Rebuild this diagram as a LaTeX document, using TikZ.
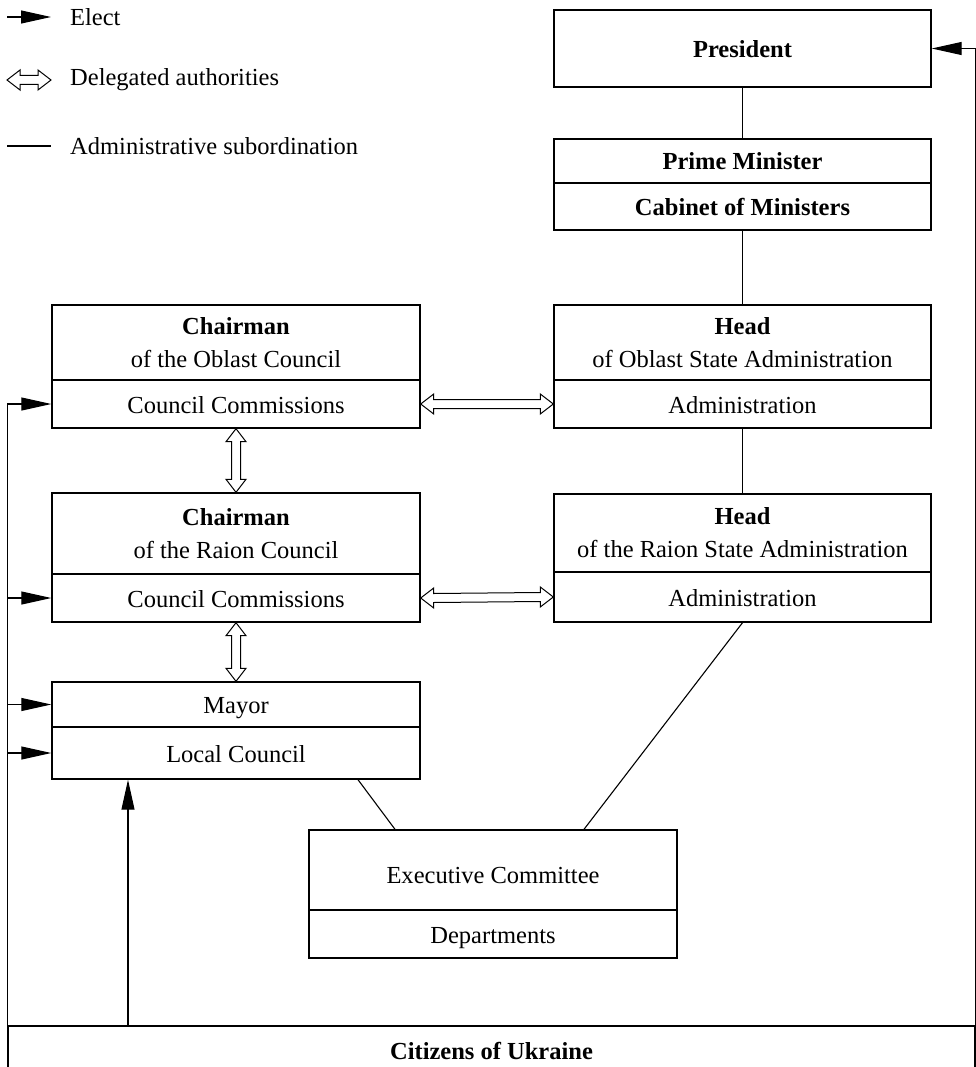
\documentclass[tikz,border=0pt]{standalone}
\usepackage{fontspec}
\setmainfont{Liberation Serif}
\usetikzlibrary{arrows.meta,calc}
\newcommand\mydblH[2]{\draw[dbl] (#1) -- ($(#1)+(13,-10)$) -- ($(#1)+(13,-4.5)$) -- ($(#2)+(-13,-4.5)$) -- ($(#2)+(-13,-10)$) -- (#2) -- ($(#2)+(-13,10)$) -- ($(#2)+(-13,4.5)$) -- ($(#1)+(13,4.5)$) -- ($(#1)+(13,10)$) -- cycle;}
\newcommand\mydblV[2]{\draw[dbl] (#1) -- ($(#1)+(-10,13)$) -- ($(#1)+(-4.5,13)$) -- ($(#2)+(-4.5,-13)$) -- ($(#2)+(-10,-13)$) -- (#2) -- ($(#2)+(10,-13)$) -- ($(#2)+(4.5,-13)$) -- ($(#1)+(4.5,13)$) -- ($(#1)+(10,13)$) -- cycle;}
\begin{document}
\begin{tikzpicture}[x=1pt,y=-1pt,
  box/.style={draw, line width=1.4pt, inner sep=0pt, align=center, font=\fontsize{24.5}{33}\selectfont},
  bfont/.style={font=\fontsize{24.5}{33}\selectfont\bfseries},
  sl/.style={text height=18pt, text depth=0pt},
  lbox/.style={box, minimum width=368pt},
  rbox/.style={box, minimum width=377pt},
  conn/.style={line width=1.1pt},
  elect/.style={conn, -{Triangle[length=30pt,width=13pt]}},
  dbl/.style={line width=1pt, fill=white, line join=miter},
  lab/.style={anchor=west, inner sep=0pt, font=\fontsize{24.5}{28}\selectfont}]
\useasboundingbox (0,0) rectangle (976,1067);
\clip (0,0) rectangle (976,1067);
% legend
\coordinate (e1) at (7,17); \coordinate (e2) at (51,17);
\draw[elect] (e1) -- (e2);
\node[lab] (le) at (70,17) {Elect};
\coordinate (d1) at (7,80); \coordinate (d2) at (51,80);
\mydblH{d1}{d2}
\node[lab] (ld) at (70,80) {Delegated authorities};
\coordinate (a1) at (7,146); \coordinate (a2) at (51,146);
\draw[conn] (a1) -- (a2);
\node[lab] (la) at (70,146) {Administrative subordination};
% right column
\node[rbox, sl, minimum height=77pt, bfont] (pres) at (742.5,48.5) {President};
\node[rbox, sl, minimum height=44pt, bfont] (pm) at (742.5,161) {Prime Minister};
\node[rbox, sl, minimum height=47pt, bfont] (cab) at (742.5,206.5) {Cabinet of Ministers};
\node[rbox, minimum height=75pt] (ohead) at (742.5,342.5) {\textbf{Head}\\of Oblast State Administration};
\node[rbox, sl, minimum height=48pt] (oadm) at (742.5,404) {Administration};
\node[rbox, minimum height=78pt] (rhead) at (742.5,533) {\textbf{Head}\\of the Raion State Administration};
\node[rbox, sl, minimum height=50pt] (radm) at (742.5,597) {Administration};
% left column
\node[lbox, minimum height=75pt] (och) at (236,342.5) {\textbf{Chairman}\\of the Oblast Council};
\node[lbox, sl, minimum height=48pt] (occ) at (236,404) {Council Commissions};
\node[lbox, minimum height=81pt] (rch) at (236,533.5) {\textbf{Chairman}\\of the Raion Council};
\node[lbox, sl, minimum height=48pt] (rcc) at (236,598) {Council Commissions};
\node[lbox, sl, minimum height=45pt] (mayor) at (236,704.5) {Mayor};
\node[lbox, sl, minimum height=52pt] (lc) at (236,753) {Local Council};
\node[lbox, minimum height=80pt, text height=26pt, text depth=0pt] (exc) at (493,870) {Executive Committee};
\node[lbox, sl, minimum height=48pt] (dep) at (493,934) {Departments};
\node[box, sl, minimum width=967pt, minimum height=48pt, bfont] (cit) at (491.5,1050) {Citizens of Ukraine};
% administrative subordination
\draw[conn] (pres) -- (pm);
\draw[conn] (cab) -- (ohead);
\draw[conn] (oadm) -- (rhead);
\draw[conn] ($(lc.south)+(122,0)$) -- ($(exc.north)+(-98,0)$);
\draw[conn] ($(exc.north)+(91,0)$) -- (radm.south);
% elect
\draw[conn] (cit.north west) -- (cit.north west |- occ.west);
\draw[elect] (cit.north west |- occ.west) -- (occ.west);
\draw[elect] (cit.north west |- rcc.west) -- (rcc.west);
\draw[elect] (cit.north west |- mayor.west) -- (mayor.west);
\draw[elect] (cit.north west |- lc.west) -- (lc.west);
\draw[conn] (cit.north east) -- (cit.north east |- pres.east);
\draw[elect] (cit.north east |- pres.east) -- (pres.east);
\coordinate (cup) at (128,1026);
\draw[elect] (cup) -- (cup |- lc.south);
% delegated authorities
\mydblH{occ.east}{oadm.west}
\mydblH{rcc.east}{radm.west}
\mydblV{occ.south}{rch.north}
\mydblV{rcc.south}{mayor.north}
\end{tikzpicture}
\end{document}
